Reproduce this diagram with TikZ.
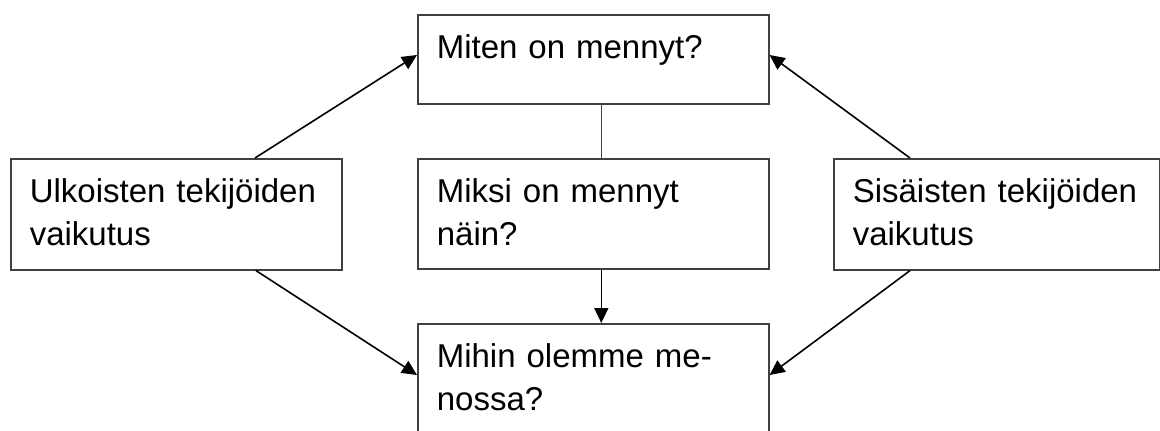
\documentclass[tikz,border=0pt]{standalone}
\usepackage{fontspec}
\setmainfont{Liberation Sans}
\usetikzlibrary{arrows.meta,calc}
\begin{document}
\begin{tikzpicture}[x=1pt,y=-1pt,
  box/.style={draw=black!75, line width=1.6pt, anchor=north west, inner xsep=19pt, inner ysep=0pt,
    align=left, text height=44pt, font=\fontsize{33}{43}\selectfont},
  arr/.style={line width=1.6pt, -{Triangle[length=15pt,width=14pt]}},
  link/.style={line width=1.6pt, draw=black!75}]
\useasboundingbox (0,0) rectangle (1160,431);
\clip (0,0) rectangle (1160,431);
\node[box, text width=313pt, text depth=45pt] (T) at (417,14) {Miten on mennyt?};
\node[box, text width=313pt, text depth=66pt] (M) at (417,158) {Miksi on mennyt\\näin?};
\node[box, text width=313pt, text depth=80pt] (B) at (417,323) {Mihin olemme me-\\nossa?};
\node[box, text width=293pt, text depth=67pt] (L) at (10,158) {Ulkoisten tekijöiden\\vaikutus};
\node[box, text width=288pt, text depth=67pt] (R) at (833,158) {Sisäisten tekijöiden\\vaikutus};
\draw[arr] ([xshift=245pt]L.north west) -- ([yshift=-41pt]T.north west);
\draw[arr] ([xshift=77pt]R.north west) -- ([yshift=-41pt]T.north east);
\draw[arr] ([xshift=246pt]L.south west) -- ([yshift=-52pt]B.north west);
\draw[arr] ([xshift=77pt]R.south west) -- ([yshift=-52pt]B.north east);
\draw[link] ([xshift=8pt]T.south) -- ([xshift=8pt]M.north);
\draw[arr] ([xshift=8pt]M.south) -- ([xshift=8pt]B.north);
\end{tikzpicture}
\end{document}
